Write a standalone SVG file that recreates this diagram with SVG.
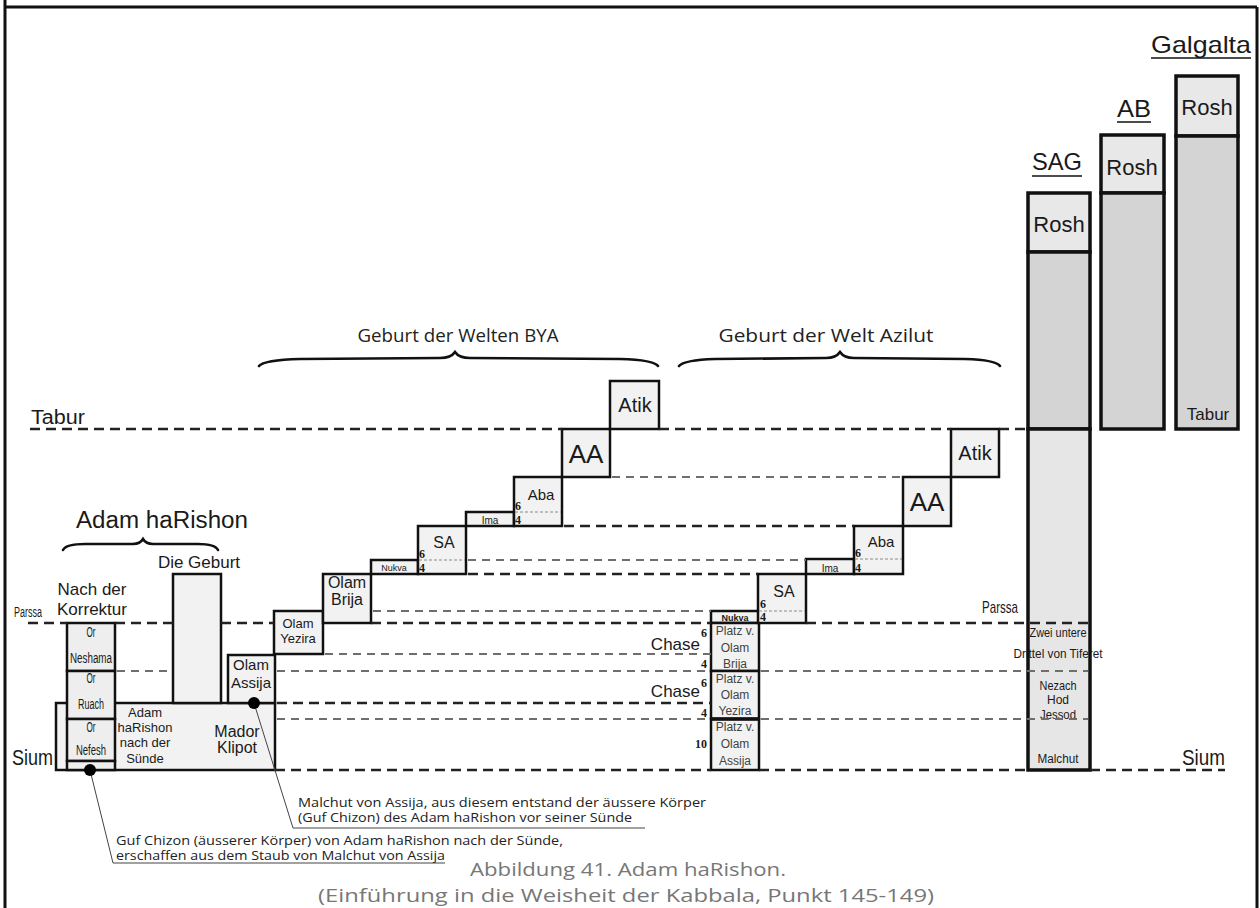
<svg xmlns="http://www.w3.org/2000/svg" width="1260" height="908" viewBox="0 0 1260 908">
<style>
.bx{stroke:#111;stroke-width:2.5;fill:#f2f2f2}
.ad{stroke:#111;stroke-width:2.5;fill:#eeeeee}
.ro{stroke:#111;stroke-width:3.5;fill:#e8e8e8}
.bd{stroke:#111;stroke-width:3.5;fill:#d4d4d4}
.lo{fill:#e6e6e6}
.ol{stroke:#111;stroke-width:3.5;fill:none}
.dk{stroke:#222;stroke-width:2.5;stroke-dasharray:10 6;fill:none}
.gr{stroke:#6e6e6e;stroke-width:2;stroke-dasharray:8 6;fill:none}
.dt{stroke:#8a8a8a;stroke-width:1;stroke-dasharray:3 2;fill:none}
.ld{stroke:#444;stroke-width:1;fill:none}
.br{stroke:#111;stroke-width:2.6;fill:none;stroke-linecap:round}
text{font-family:"Liberation Sans","DejaVu Sans",sans-serif;fill:#1a1a1a}
.c{text-anchor:middle}
.e{text-anchor:end}
.hd{font-family:"Open Sans","Liberation Sans",sans-serif;font-size:18px;fill:#222}
.num{font-family:"Liberation Serif","DejaVu Serif",serif;font-weight:bold;font-size:12px}
.cap{font-family:"Open Sans","Liberation Sans",sans-serif;font-size:19px;fill:#777;text-anchor:middle}
.an{font-family:"Open Sans","Liberation Sans",sans-serif;font-size:12.5px;fill:#222}
.sm{font-size:12px;fill:#444;text-anchor:middle}
</style>

<!-- frame -->
<g id="frame" stroke="#111" stroke-width="3" fill="none">
<path d="M5,0 V908 M5,7 H1257 M1257,7 V908"/>
</g>

<!-- headers and braces -->
<g id="header-adam">
<text x="162" y="528" class="c" font-size="23" textLength="172" lengthAdjust="spacingAndGlyphs">Adam haRishon</text>
<path class="br" d="M63,550 Q66,544 85,544 L133,544 Q140,544 143,539 Q146,544 153,544 L198,544 Q215,544 218,550"/>
</g>
<g id="header-bya">
<text x="458" y="342" class="hd c" textLength="201" lengthAdjust="spacingAndGlyphs">Geburt der Welten BYA</text>
<path class="br" d="M259,366 Q264,360 300,359 L440,358 Q451,358 455,352 Q459,358 470,358 L620,359 Q654,360 658,366"/>
</g>
<g id="header-azilut">
<text x="826" y="342" class="hd c" textLength="215" lengthAdjust="spacingAndGlyphs">Geburt der Welt Azilut</text>
<path class="br" d="M679,366 Q684,360 715,359 L826,358 Q836,358 840,352 Q844,358 854,358 L965,359 Q996,360 1000,366"/>
</g>

<!-- level labels -->
<g id="labels">
<text x="31" y="424" font-size="20" textLength="54" lengthAdjust="spacingAndGlyphs">Tabur</text>
<text x="14" y="617" font-size="14" textLength="28" lengthAdjust="spacingAndGlyphs">Parssa</text>
<text x="12" y="765" font-size="22" textLength="41" lengthAdjust="spacingAndGlyphs">Sium</text>
<text x="982" y="613" font-size="17" textLength="36" lengthAdjust="spacingAndGlyphs">Parssa</text>
<text x="1182" y="765" font-size="22" textLength="43" lengthAdjust="spacingAndGlyphs">Sium</text>
</g>

<!-- Adam haRishon -->
<g id="node-adam-body">
<rect class="bx" x="56" y="703" width="219" height="67" fill="#f0f0f0"/>
<text x="145" y="717" font-size="13" class="c" fill="#333">Adam</text>
<text x="145" y="732" font-size="13" class="c" fill="#333">haRishon</text>
<text x="145" y="747" font-size="13" class="c" fill="#333">nach der</text>
<text x="145" y="763" font-size="13" class="c" fill="#333">Sünde</text>
<text x="237" y="737" font-size="16" class="c">Mador</text>
<text x="237" y="753" font-size="16" class="c">Klipot</text>
</g>
<g id="node-korrektur">
<text x="92" y="595" font-size="17" class="c">Nach der</text>
<text x="92" y="615" font-size="17" class="c">Korrektur</text>
<rect class="ad" x="67" y="623" width="48" height="48"/>
<rect class="ad" x="67" y="671" width="48" height="48"/>
<rect class="ad" x="67" y="719" width="48" height="42"/>
<rect class="ad" x="67" y="761" width="48" height="9"/>
<text x="91" y="637" font-size="14" class="c" textLength="9" lengthAdjust="spacingAndGlyphs">Or</text>
<text x="91" y="663" font-size="14" class="c" textLength="42" lengthAdjust="spacingAndGlyphs">Neshama</text>
<text x="91" y="683" font-size="14" class="c" textLength="9" lengthAdjust="spacingAndGlyphs">Or</text>
<text x="91" y="709" font-size="14" class="c" textLength="26" lengthAdjust="spacingAndGlyphs">Ruach</text>
<text x="91" y="732" font-size="14" class="c" textLength="9" lengthAdjust="spacingAndGlyphs">Or</text>
<text x="91" y="755" font-size="14" class="c" textLength="30" lengthAdjust="spacingAndGlyphs">Nefesh</text>
</g>
<g id="node-geburt">
<text x="199" y="568" font-size="17" class="c">Die Geburt</text>
<rect class="bx" x="173" y="574" width="48" height="129"/>
</g>
<g id="node-bya-assija">
<rect class="bx" x="228" y="655" width="47" height="48"/>
<text x="251" y="670" font-size="15" class="c">Olam</text>
<text x="251" y="688" font-size="15" class="c">Assija</text>
</g>

<!-- BYA steps -->
<g id="node-bya-yezira">
<rect class="bx" x="274" y="611" width="49" height="43"/>
<text x="298" y="628" font-size="13" class="c">Olam</text>
<text x="298" y="643" font-size="13" class="c">Yezira</text>
</g>
<g id="node-bya-brija">
<rect class="bx" x="323" y="574" width="48" height="49"/>
<text x="347" y="588" font-size="16" class="c">Olam</text>
<text x="347" y="605" font-size="16" class="c">Brija</text>
</g>
<g id="node-bya-nukva">
<rect class="bx" x="371" y="560" width="47" height="14"/>
<text x="394" y="571" font-size="9" class="c">Nukva</text>
</g>
<g id="node-bya-sa">
<rect class="bx" x="418" y="526" width="48" height="48"/>
<path class="dt" d="M419,560 H465"/>
<text x="444" y="548" font-size="16" class="c">SA</text>
<text x="419" y="558" class="num">6</text>
<text x="419" y="572" class="num">4</text>
</g>
<g id="node-bya-ima">
<rect class="bx" x="466" y="512" width="48" height="14"/>
<text x="490" y="524" font-size="10" class="c">Ima</text>
</g>
<g id="node-bya-aba">
<rect class="bx" x="514" y="477" width="48" height="49"/>
<path class="dt" d="M515,512 H561"/>
<text x="541" y="500" font-size="15" class="c">Aba</text>
<text x="515" y="510" class="num">6</text>
<text x="515" y="524" class="num">4</text>
</g>
<g id="node-bya-aa">
<rect class="bx" x="562" y="429" width="48" height="48"/>
<text x="586" y="463" font-size="26" class="c">AA</text>
</g>
<g id="node-bya-atik">
<rect class="bx" x="610" y="381" width="49" height="48"/>
<text x="635" y="412" font-size="20" class="c">Atik</text>
</g>

<!-- Azilut steps -->
<g id="node-az-column">
<rect class="bx" x="711" y="611" width="48" height="12"/>
<text x="735" y="621" font-size="9" font-weight="bold" class="c">Nukva</text>
<rect class="bx" x="711" y="623" width="48" height="48"/>
<text x="735" y="635" class="sm">Platz v.</text>
<text x="735" y="652" class="sm">Olam</text>
<text x="735" y="668" class="sm">Brija</text>
<rect class="bx" x="711" y="671" width="48" height="48"/>
<text x="735" y="683" class="sm">Platz v.</text>
<text x="735" y="699" class="sm">Olam</text>
<text x="735" y="715" class="sm">Yezira</text>
<rect class="bx" x="711" y="719" width="48" height="51"/>
<path d="M711,719 H759" stroke="#111" stroke-width="3.5"/>
<text x="735" y="731" class="sm">Platz v.</text>
<text x="735" y="748" class="sm">Olam</text>
<text x="735" y="765" class="sm">Assija</text>
<text x="700" y="650" font-size="17" class="e" fill="#555" font-family="Open Sans, Liberation Sans, sans-serif">Chase</text>
<text x="707" y="637" class="num e">6</text>
<text x="707" y="668" class="num e">4</text>
<text x="700" y="697" font-size="17" class="e" fill="#555" font-family="Open Sans, Liberation Sans, sans-serif">Chase</text>
<text x="707" y="687" class="num e">6</text>
<text x="707" y="717" class="num e">4</text>
<text x="707" y="748" class="num e">10</text>
</g>
<g id="node-az-sa">
<rect class="bx" x="758" y="574" width="48" height="49"/>
<path class="dt" d="M759,611 H805"/>
<text x="784" y="597" font-size="16" class="c">SA</text>
<text x="760" y="608" class="num">6</text>
<text x="760" y="621" class="num">4</text>
</g>
<g id="node-az-ima">
<rect class="bx" x="806" y="559" width="48" height="15"/>
<text x="830" y="572" font-size="10" class="c">Ima</text>
</g>
<g id="node-az-aba">
<rect class="bx" x="854" y="526" width="49" height="48"/>
<path class="dt" d="M855,559 H902"/>
<text x="881" y="547" font-size="15" class="c">Aba</text>
<text x="855" y="557" class="num">6</text>
<text x="855" y="572" class="num">4</text>
</g>
<g id="node-az-aa">
<rect class="bx" x="903" y="477" width="48" height="49"/>
<text x="927" y="511" font-size="26" class="c">AA</text>
</g>
<g id="node-az-atik">
<rect class="bx" x="951" y="429" width="48" height="48"/>
<text x="975" y="460" font-size="20" class="c">Atik</text>
</g>

<!-- Partzufim -->
<g id="node-sag">
<text x="1057" y="170" font-size="24" class="c" textLength="50" lengthAdjust="spacingAndGlyphs">SAG</text>
<path d="M1032,176 H1082" stroke="#111" stroke-width="1.5"/>
<rect class="ro" x="1028" y="193" width="62" height="59"/>
<text x="1059" y="232" font-size="22" class="c">Rosh</text>
<rect class="bd" x="1028" y="252" width="62" height="177"/>
<rect class="lo" x="1028" y="429" width="62" height="341"/>
<text x="1058" y="637" font-size="12" class="c" fill="#333" textLength="57" lengthAdjust="spacingAndGlyphs">Zwei untere</text>
<text x="1058" y="658" font-size="12" class="c" fill="#333" textLength="89" lengthAdjust="spacingAndGlyphs">Drittel von Tiferet</text>
<text x="1058" y="690" font-size="13" class="c" fill="#333" textLength="37" lengthAdjust="spacingAndGlyphs">Nezach</text>
<text x="1058" y="704" font-size="13" class="c" fill="#333" textLength="22" lengthAdjust="spacingAndGlyphs">Hod</text>
<text x="1058" y="719" font-size="13" class="c" fill="#333" textLength="36" lengthAdjust="spacingAndGlyphs">Jessod</text>
<text x="1058" y="763" font-size="12" class="c" fill="#333" textLength="41" lengthAdjust="spacingAndGlyphs">Malchut</text>
<rect class="ol" x="1028" y="429" width="62" height="341"/>
</g>
<g id="node-ab">
<text x="1134" y="117" font-size="24" class="c" textLength="34" lengthAdjust="spacingAndGlyphs">AB</text>
<path d="M1117,122 H1151" stroke="#111" stroke-width="1.5"/>
<rect class="ro" x="1101" y="135" width="63" height="58"/>
<text x="1132" y="175" font-size="22" class="c">Rosh</text>
<rect class="bd" x="1101" y="193" width="63" height="236"/>
</g>
<g id="node-galgalta">
<text x="1201" y="53" font-size="24" class="c" textLength="100" lengthAdjust="spacingAndGlyphs">Galgalta</text>
<path d="M1151,58 H1251" stroke="#111" stroke-width="1.5"/>
<rect class="ro" x="1176" y="76" width="62" height="60"/>
<text x="1207" y="115" font-size="22" class="c">Rosh</text>
<rect class="bd" x="1176" y="136" width="62" height="293"/>
<text x="1208" y="420" font-size="17" class="c" fill="#333">Tabur</text>
</g>

<!-- connectors: level lines and leaders -->
<g id="connectors">
<path class="dk" d="M30,429 H562 M659,429 H951 M999,429 H1028"/>
<path class="dk" d="M28,623 H67 M115,623 H173 M221,623 H274 M371,623 H711 M806,623 H1088"/>
<path class="dk" d="M275,770 H711 M759,770 H1028 M1090,770 H1225"/>
<path class="gr" d="M612,477 H903"/>
<path class="dk" d="M564,526 H854"/>
<path class="gr" d="M468,560 H806"/>
<path class="dk" d="M468,574 H758"/>
<path class="gr" d="M373,611 H711"/>
<path class="gr" d="M325,654 H711"/>
<path class="gr" d="M117,671 H173 M277,671 H711 M761,671 H1088"/>
<path class="dk" d="M277,703 H711"/>
<path class="gr" d="M277,719 H711 M761,719 H1088"/>
<path class="ld" d="M254,703 L293,828 H645"/>
<path class="ld" d="M90,770 L113,863 H445"/>
<circle cx="254" cy="703" r="6" fill="#000"/>
<circle cx="90" cy="770" r="6" fill="#000"/>
</g>

<!-- annotations -->
<g id="annotations">
<text x="298" y="807" class="an" textLength="408" lengthAdjust="spacingAndGlyphs">Malchut von Assija, aus diesem entstand der äussere Körper</text>
<text x="298" y="822" class="an" textLength="334" lengthAdjust="spacingAndGlyphs">(Guf Chizon) des Adam haRishon vor seiner Sünde</text>
<text x="116" y="845" class="an" textLength="447" lengthAdjust="spacingAndGlyphs">Guf Chizon (äusserer Körper) von Adam haRishon nach der Sünde,</text>
<text x="116" y="860" class="an" textLength="329" lengthAdjust="spacingAndGlyphs">erschaffen aus dem Staub von Malchut von Assija</text>
</g>
<g id="caption">
<text x="628" y="876" class="cap" textLength="316" lengthAdjust="spacingAndGlyphs">Abbildung 41. Adam haRishon.</text>
<text x="626" y="902" class="cap" textLength="616" lengthAdjust="spacingAndGlyphs">(Einführung in die Weisheit der Kabbala, Punkt 145-149)</text>
</g>
</svg>
